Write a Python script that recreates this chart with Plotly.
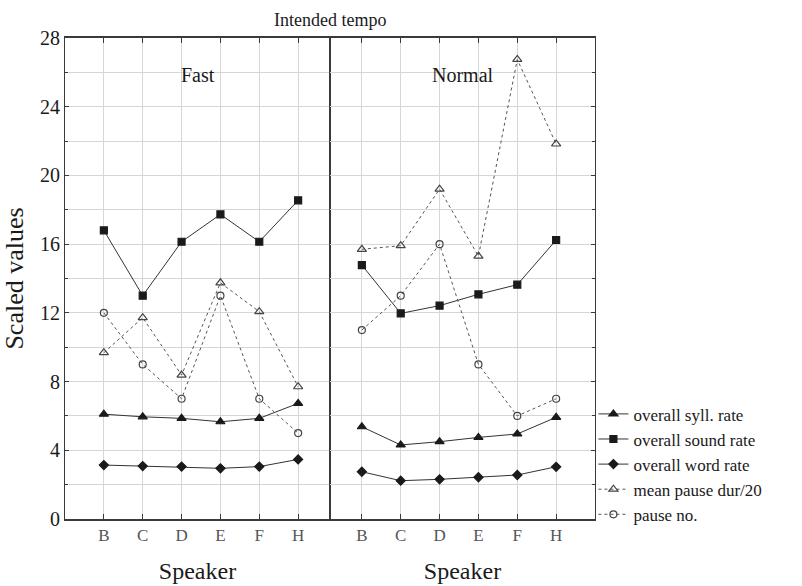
import plotly.graph_objects as go
from plotly.subplots import make_subplots

speakers = ["B", "C", "D", "E", "F", "H"]

# Fast tempo
fast_syll = [6.1, 5.95, 5.86, 5.66, 5.86, 6.73]
fast_sound = [16.8, 13.0, 16.14, 17.73, 16.14, 18.55]
fast_word = [3.14, 3.08, 3.05, 2.95, 3.05, 3.47]
fast_pause_dur = [9.68, 11.72, 8.38, 13.75, 12.07, 7.70]
fast_pause_no = [12, 9, 7, 13, 7, 5]

# Normal tempo
norm_syll = [5.37, 4.31, 4.5, 4.75, 4.95, 5.92]
norm_sound = [14.78, 11.97, 12.42, 13.08, 13.64, 16.24]
norm_word = [2.75, 2.23, 2.31, 2.43, 2.56, 3.04]
norm_pause_dur = [15.7, 15.91, 19.2, 15.3, 26.75, 21.83]
norm_pause_no = [11, 13, 16, 9, 6, 7]

series_names = ["overall syll. rate", "overall sound rate", "overall word rate",
                "mean pause dur/20", "pause no."]

FONT = "Times New Roman, Liberation Serif, Tinos, DejaVu Serif, serif"
ink = "#1a1a1a"

styles = [
    dict(symbol="triangle-up", size=8, color="#333", dash="solid", mcol=ink, mline=ink),
    dict(symbol="square", size=7, color="#333", dash="solid", mcol=ink, mline=ink),
    dict(symbol="diamond", size=7, color="#333", dash="solid", mcol=ink, mline=ink),
    dict(symbol="triangle-up-open", size=8, color="#555", dash="dot", mcol="#444", mline="#444"),
    dict(symbol="circle-open", size=7, color="#555", dash="dot", mcol="#444", mline="#444"),
]

fig = make_subplots(rows=1, cols=2, shared_yaxes=True, horizontal_spacing=0)

fast = [fast_syll, fast_sound, fast_word, fast_pause_dur, fast_pause_no]
norm = [norm_syll, norm_sound, norm_word, norm_pause_dur, norm_pause_no]

for col, data in ((1, fast), (2, norm)):
    for i, vals in enumerate(data):
        st = styles[i]
        fig.add_trace(go.Scatter(
            x=speakers, y=vals, mode="lines+markers", name=series_names[i],
            showlegend=(col == 1),
            line=dict(color=st["color"], width=1, dash=st["dash"]),
            marker=dict(symbol=st["symbol"], size=st["size"], color=st["mcol"],
                        line=dict(color=st["mline"], width=1.2)),
        ), row=1, col=col)

grid = "#d6d6d6"
frame = "#3a3a3a"
xcommon = dict(type="category", showgrid=True, gridcolor=grid, gridwidth=1,
               showline=True, linecolor=frame, linewidth=1.5, mirror="ticks",
               ticks="inside", ticklen=5, tickcolor=frame, automargin=False,
               tickfont=dict(family=FONT, size=17, color="#555"),
               title=dict(text="Speaker", font=dict(family=FONT, size=24, color=ink), standoff=18),
               zeroline=False)
fig.update_xaxes(**xcommon)
fig.update_xaxes(range=[-1, 5.82], row=1, col=1)
fig.update_xaxes(range=[-0.82, 6], row=1, col=2)

fig.update_yaxes(range=[0, 28], tickvals=[0, 4, 8, 12, 16, 20, 24, 28], automargin=False,
                 showgrid=True, gridcolor=grid, gridwidth=1,
                 minor=dict(dtick=2, showgrid=True, gridcolor=grid, ticks="inside", ticklen=3, tickcolor=frame),
                 showline=True, linecolor=frame, linewidth=1, mirror=True,
                 ticks="inside", ticklen=4, tickcolor=frame,
                 tickfont=dict(family=FONT, size=20, color=ink), zeroline=False)
fig.update_yaxes(title=dict(text="Scaled values", font=dict(family=FONT, size=26, color=ink), standoff=10),
                 row=1, col=1)
fig.update_yaxes(side="right", showticklabels=False, row=1, col=2)

fig.add_annotation(text="Fast", xref="x domain", yref="y domain", x=0.5, y=0.95,
                   showarrow=False, font=dict(family=FONT, size=20, color=ink))
fig.add_annotation(text="Normal", xref="x2 domain", yref="y domain", x=0.5, y=0.95,
                   showarrow=False, font=dict(family=FONT, size=20, color=ink))
fig.add_annotation(text="Intended tempo", xref="paper", yref="paper", x=0.5, y=1.0,
                   yanchor="bottom", yshift=6, showarrow=False, font=dict(family=FONT, size=18, color=ink))

fig.update_layout(
    width=802, height=586,
    margin=dict(l=65, r=207, t=38, b=67),
    paper_bgcolor="white", plot_bgcolor="white",
    font=dict(family=FONT, color=ink),
    legend=dict(x=0.997, y=0.255, xanchor="left", yanchor="top",
                font=dict(family=FONT, size=17, color=ink),
                itemwidth=30, tracegroupgap=0, bgcolor="rgba(0,0,0,0)"),
)

fig.write_html("out.html")
